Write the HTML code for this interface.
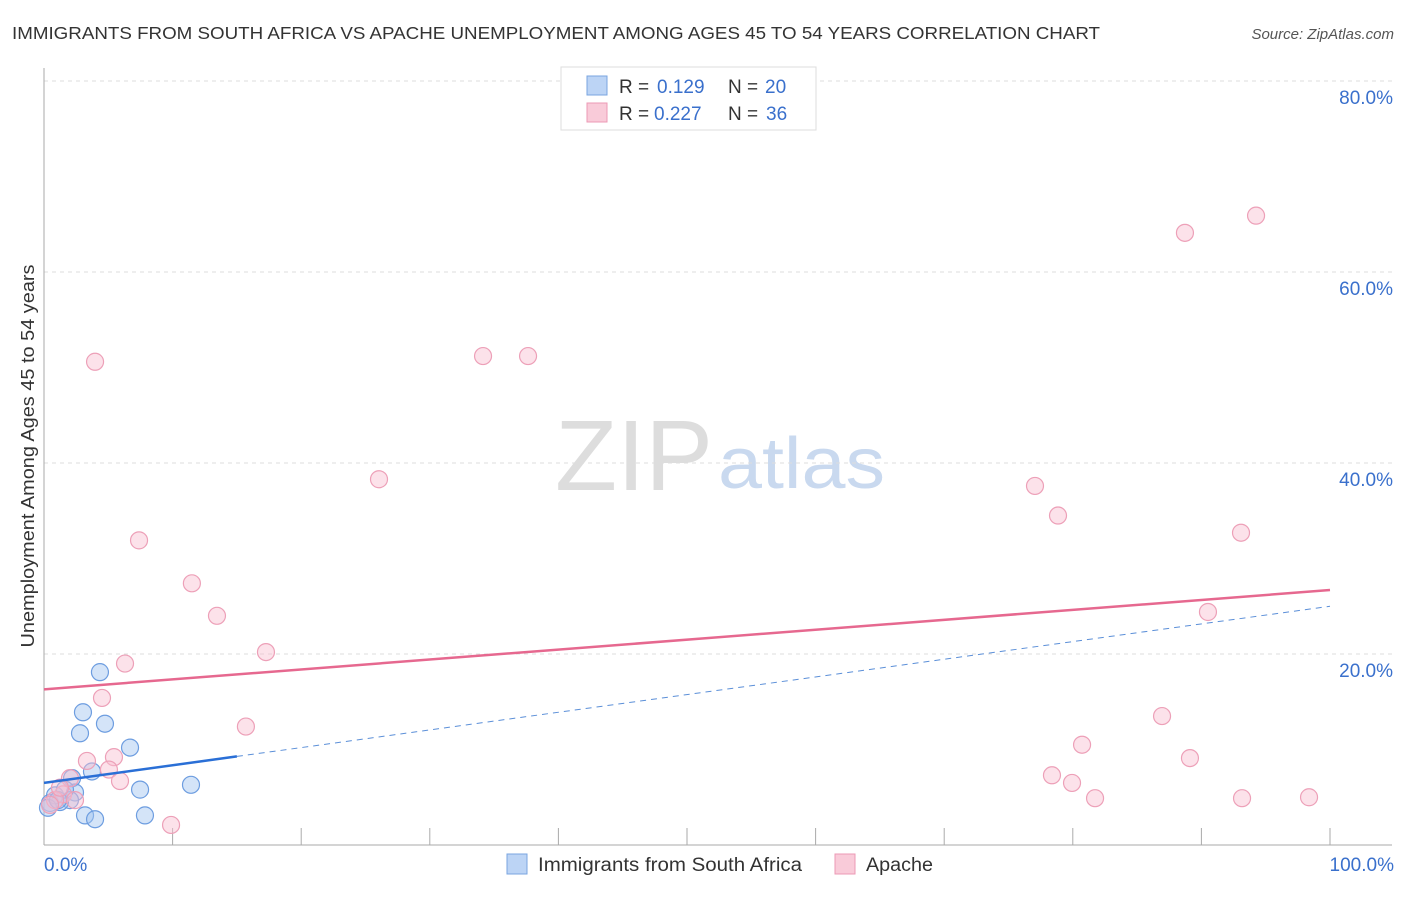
<!DOCTYPE html>
<html><head><meta charset="utf-8"><style>
body{margin:0;background:#fff;font-family:"Liberation Sans",sans-serif;}
svg text{font-family:"Liberation Sans",sans-serif;}
</style></head><body>
<svg id="chart" width="1406" height="892">
<text x="12" y="39" font-size="17.5" fill="#333" textLength="1088" lengthAdjust="spacingAndGlyphs">IMMIGRANTS FROM SOUTH AFRICA VS APACHE UNEMPLOYMENT AMONG AGES 45 TO 54 YEARS CORRELATION CHART</text>
<text x="1394" y="39" font-size="15" fill="#555" font-style="italic" text-anchor="end">Source: ZipAtlas.com</text>
<text x="555" y="490" font-size="100" fill="#ddd" textLength="158" lengthAdjust="spacingAndGlyphs" font-family="Liberation Serif,serif">ZIP</text>
<text x="718" y="488" font-size="72" fill="#c9d9ef" textLength="167" lengthAdjust="spacingAndGlyphs">atlas</text>
<text transform="translate(34,456) rotate(-90)" font-size="18" fill="#333" text-anchor="middle" textLength="383" lengthAdjust="spacingAndGlyphs">Unemployment Among Ages 45 to 54 years</text>
<g id="grid"></g><g id="marks"></g>
<g>
<rect x="561" y="67" width="255" height="63" fill="#fff" stroke="#ddd"/>
<rect x="587" y="76" width="20" height="19" fill="#bcd4f5" stroke="#7aa5e0"/>
<rect x="587" y="103" width="20" height="19" fill="#f9cbd9" stroke="#ec9ab5"/>
<text x="619" y="93" font-size="19" fill="#333">R =</text><text x="657" y="93" font-size="19" fill="#3a70cc">0.129</text>
<text x="728" y="93" font-size="19" fill="#333">N =</text><text x="765" y="93" font-size="19" fill="#3a70cc">20</text>
<text x="619" y="120" font-size="19" fill="#333">R =</text><text x="654" y="120" font-size="19" fill="#3a70cc">0.227</text>
<text x="728" y="120" font-size="19" fill="#333">N =</text><text x="766" y="120" font-size="19" fill="#3a70cc">36</text>
</g>
<g>
<rect x="507" y="854" width="20" height="20" fill="#bcd4f5" stroke="#7aa5e0"/>
<text x="538" y="871" font-size="19" fill="#333" textLength="264" lengthAdjust="spacingAndGlyphs">Immigrants from South Africa</text>
<rect x="835" y="854" width="20" height="20" fill="#f9cbd9" stroke="#ec9ab5"/>
<text x="866" y="871" font-size="19" fill="#333" textLength="67" lengthAdjust="spacingAndGlyphs">Apache</text>
</g>
</svg>
<script>
const yTicks=[20,40,60,80];
const yTickLabels=["20.0%","40.0%","60.0%","80.0%"];
const xTickLabels=["0.0%","100.0%"];
const blueX=[4.35,3.03,2.8,4.74,6.69,3.73,2.18,2.41,7.47,11.43,2.02,1.24,0.47,3.19,3.97,7.85,0.86,1.63,0.31,1.09];
const blueY=[18.1,13.9,11.7,12.7,10.2,7.7,7.0,5.5,5.8,6.3,4.7,4.5,4.4,3.1,2.7,3.1,5.2,5.8,3.9,4.7];
const pinkX=[3.97,7.39,11.5,13.45,6.3,17.26,4.51,15.7,5.44,3.34,5.05,5.91,2.02,1.48,9.88,26.05,34.14,37.64,77.06,78.85,88.72,94.25,93.08,90.51,86.94,80.72,78.38,79.94,81.73,89.11,93.16,98.37,0.86,0.47,1.24,2.41];
const pinkY=[50.6,31.9,27.4,24.0,19.0,20.2,15.4,12.4,9.2,8.8,7.9,6.7,7.0,5.3,2.1,38.3,51.2,51.2,37.6,34.5,64.1,65.9,32.7,24.4,13.5,10.5,7.3,6.5,4.9,9.1,4.9,5.0,4.7,4.2,6.0,4.7];
const blueTrend=[6.5,25.0];
const blueSolidEnd=15;
const pinkTrend=[16.3,26.7];
const NS="http://www.w3.org/2000/svg";
const X=v=>44+v*12.86, Y=v=>845-v*9.55;
function mk(t,a,p){const e=document.createElementNS(NS,t);for(const k in a)e.setAttribute(k,a[k]);p.appendChild(e);return e;}
const grid=document.getElementById('grid'),marks=document.getElementById('marks');
yTicks.forEach((t,i)=>{
 const l=mk('line',{x1:44,x2:1392,y1:Y(t),y2:Y(t),stroke:'#ddd','stroke-dasharray':'4,4'},grid);
 
 
 const tx=mk('text',{x:1393,y:Y(t)+23,'font-size':19,fill:'#3a70cc','text-anchor':'end'},grid);tx.textContent=yTickLabels[i];
 
 
});
mk('line',{x1:44,x2:44,y1:68,y2:845,stroke:'#aaa'},grid);
mk('line',{x1:44,x2:1392,y1:845,y2:845,stroke:'#aaa'},grid);
for(let i=1;i<=10;i++){mk('line',{x1:X(i*10),x2:X(i*10),y1:828,y2:845,stroke:'#aaa'},grid);}
[[0,'start',44],[100,'end',1394]].forEach((d,i)=>{const t=mk('text',{x:d[2],y:871,'font-size':19,fill:'#3a70cc','text-anchor':d[1]},grid);t.textContent=xTickLabels[i];
 
 });
blueX.forEach((x,i)=>{const c=mk('circle',{cx:X(x),cy:Y(blueY[i]),r:8.5,fill:'rgba(160,195,240,0.45)',stroke:'#6d9de0','stroke-width':1.2},marks);
 
 });
pinkX.forEach((x,i)=>{const c=mk('circle',{cx:X(x),cy:Y(pinkY[i]),r:8.5,fill:'rgba(248,190,208,0.45)',stroke:'#eda0b8','stroke-width':1.2},marks);
 
 });
const by=x=>blueTrend[0]+(blueTrend[1]-blueTrend[0])*x/100;
let l=mk('line',{x1:X(blueSolidEnd),y1:Y(by(blueSolidEnd)),x2:X(100),y2:Y(by(100)),stroke:'#5b8fd8','stroke-width':1,'stroke-dasharray':'6,5'},marks);


l=mk('line',{x1:X(0),y1:Y(by(0)),x2:X(blueSolidEnd),y2:Y(by(blueSolidEnd)),stroke:'#2a6fd6','stroke-width':2.5},marks);


l=mk('line',{x1:X(0),y1:Y(pinkTrend[0]),x2:X(100),y2:Y(pinkTrend[1]),stroke:'#e6688f','stroke-width':2.5},marks);


</script>
</body></html>
